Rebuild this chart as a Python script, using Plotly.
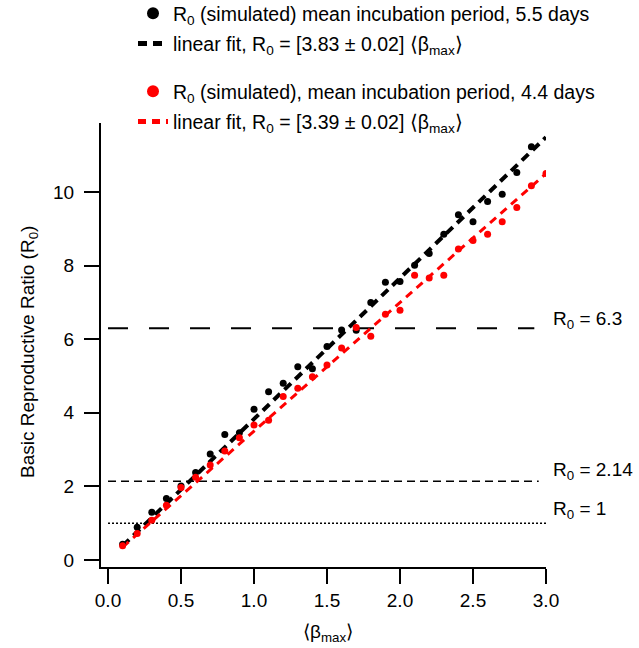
import plotly.graph_objects as go

# Basic reproductive ratio vs mean transmission rate <beta_max>
beta_black = [0.1, 0.2, 0.3, 0.4, 0.5, 0.6, 0.7, 0.8, 0.9, 1.0, 1.1, 1.2, 1.3, 1.4, 1.5,
              1.6, 1.7, 1.8, 1.9, 2.0, 2.1, 2.2, 2.3, 2.4, 2.5, 2.6, 2.7, 2.8, 2.9]
r0_black = [0.43, 0.89, 1.30, 1.67, 2.01, 2.38, 2.88, 3.41, 3.46, 4.10, 4.57, 4.80, 5.25, 5.20, 5.80,
            6.25, 6.24, 7.00, 7.55, 7.57, 8.01, 8.33, 8.85, 9.38, 9.19, 9.74, 9.94, 10.53, 11.23]

beta_red = [0.1, 0.2, 0.3, 0.4, 0.5, 0.6, 0.7, 0.8, 0.9, 1.0, 1.1, 1.2, 1.3, 1.4, 1.5,
            1.6, 1.7, 1.8, 1.9, 2.0, 2.1, 2.2, 2.3, 2.4, 2.5, 2.6, 2.7, 2.8, 2.9, 3.0]
r0_red = [0.39, 0.72, 1.08, 1.49, 1.97, 2.25, 2.58, 2.96, 3.32, 3.67, 3.80, 4.44, 4.67, 4.98, 5.30,
          5.76, 6.32, 6.08, 6.68, 6.79, 7.74, 7.66, 7.74, 8.45, 8.68, 8.85, 9.19, 9.58, 10.17, 10.50]

# Linear fits (slope, intercept) over the simulated range
fit_x = [0.1, 3.0]
fit_black = (3.83, 0.0)
fit_red = (3.50, 0.0)

# Reference thresholds: value, end of line on the x axis, dash style
thresholds = [6.3, 2.14, 1.0]
threshold_end = [2.92, 2.95, 3.0]
threshold_dash = ["20px,21px", "8px,5px", "2px,2px"]
threshold_width = [2, 1.5, 1.5]
threshold_text = ["R<sub>0</sub> = 6.3", "R<sub>0</sub> = 2.14", "R<sub>0</sub> = 1"]
threshold_shift = [8, 10, 13]

x_ticks = [0.0, 0.5, 1.0, 1.5, 2.0, 2.5, 3.0]
y_ticks = [0, 2, 4, 6, 8, 10]

FONT = "Liberation Sans, Arial, sans-serif"
FS = 19
W, H = 639, 648
ML, MR, MT, MB = 101, 93, 123, 81
PW, PH = W - ML - MR, H - MT - MB

fig = go.Figure()

for val, xe, dash, lw in zip(thresholds, threshold_end, threshold_dash, threshold_width):
    fig.add_trace(go.Scatter(x=[0.0, xe], y=[val, val], mode="lines",
                             line=dict(color="black", width=lw, dash=dash),
                             showlegend=False, hoverinfo="skip"))

fig.add_trace(go.Scatter(
    x=fit_x, y=[fit_black[0] * x + fit_black[1] for x in fit_x], mode="lines",
    line=dict(color="black", width=4, dash="9px,6px"),
    name="linear fit, R<sub>0</sub> = [3.83 ± 0.02] ⟨β<sub>max</sub>⟩",
    legend="legend", legendgroup="b2", legendrank=2))
fig.add_trace(go.Scatter(
    x=fit_x, y=[fit_red[0] * x + fit_red[1] for x in fit_x], mode="lines",
    line=dict(color="#ff0000", width=3, dash="8px,6px"),
    name="linear fit, R<sub>0</sub> = [3.39 ± 0.02] ⟨β<sub>max</sub>⟩",
    legend="legend2", legendgroup="r2", legendrank=2))

fig.add_trace(go.Scatter(
    x=beta_black, y=r0_black, mode="markers",
    marker=dict(color="black", size=7),
    name="R<sub>0</sub> (simulated) mean incubation period, 5.5 days",
    legend="legend", legendgroup="b1", legendrank=1))
fig.add_trace(go.Scatter(
    x=beta_red, y=r0_red, mode="markers",
    marker=dict(color="#ff0000", size=7),
    name="R<sub>0</sub> (simulated), mean incubation period, 4.4 days",
    legend="legend2", legendgroup="r1", legendrank=1))

# Threshold labels at the right of the plot area
for val, txt, sh in zip(thresholds, threshold_text, threshold_shift):
    fig.add_annotation(xref="paper", x=1.0, xanchor="left", xshift=5,
                       yref="y", y=val, yanchor="middle", yshift=sh,
                       text=txt, showarrow=False,
                       font=dict(family=FONT, size=FS, color="black"))

# Axis titles
fig.add_annotation(xref="paper", x=(29 - ML) / PW, xanchor="center",
                   yref="paper", y=0.5 - 7 / PH, yanchor="middle", textangle=-90,
                   text="Basic Reproductive Ratio (R<sub>0</sub>)", showarrow=False,
                   font=dict(family=FONT, size=FS, color="black"))
fig.add_annotation(xref="paper", x=(328 - ML) / PW, xanchor="center",
                   yref="paper", y=-(633 - (MT + PH)) / PH, yanchor="middle",
                   text="⟨β<sub>max</sub>⟩", showarrow=False,
                   font=dict(family=FONT, size=FS, color="black"))

legend_common = dict(xref="paper", yref="paper", xanchor="left", yanchor="top",
                     bgcolor="rgba(0,0,0,0)", borderwidth=0, tracegroupgap=2,
                     itemsizing="constant", traceorder="grouped",
                     font=dict(family=FONT, size=19.5, color="black"))

axis_common = dict(showline=True, linecolor="black", linewidth=2, mirror=False,
                   ticks="outside", ticklen=15, tickwidth=2, tickcolor="black",
                   showgrid=False, zeroline=False, automargin=False,
                   tickfont=dict(family=FONT, size=FS, color="black"))

fig.update_layout(
    width=W, height=H,
    margin=dict(l=ML, r=MR, t=MT, b=MB, pad=0, autoexpand=False),
    plot_bgcolor="white", paper_bgcolor="white",
    font=dict(family=FONT, color="black"),
    xaxis=dict(range=[-0.048, 3.0], tickvals=x_ticks, ticktext=[f"{v:.1f}" for v in x_ticks],
               ticklabelstandoff=0, **axis_common),
    yaxis=dict(range=[-0.19, 11.875], tickvals=y_ticks, ticklabelstandoff=6,
               **axis_common),
    legend=dict(x=(133 - ML) / PW, y=1 + (MT + 6) / PH, **legend_common),
    legend2=dict(x=(133 - ML) / PW, y=1 + (MT - 72) / PH, **legend_common),
)

fig.write_html("out.html")
